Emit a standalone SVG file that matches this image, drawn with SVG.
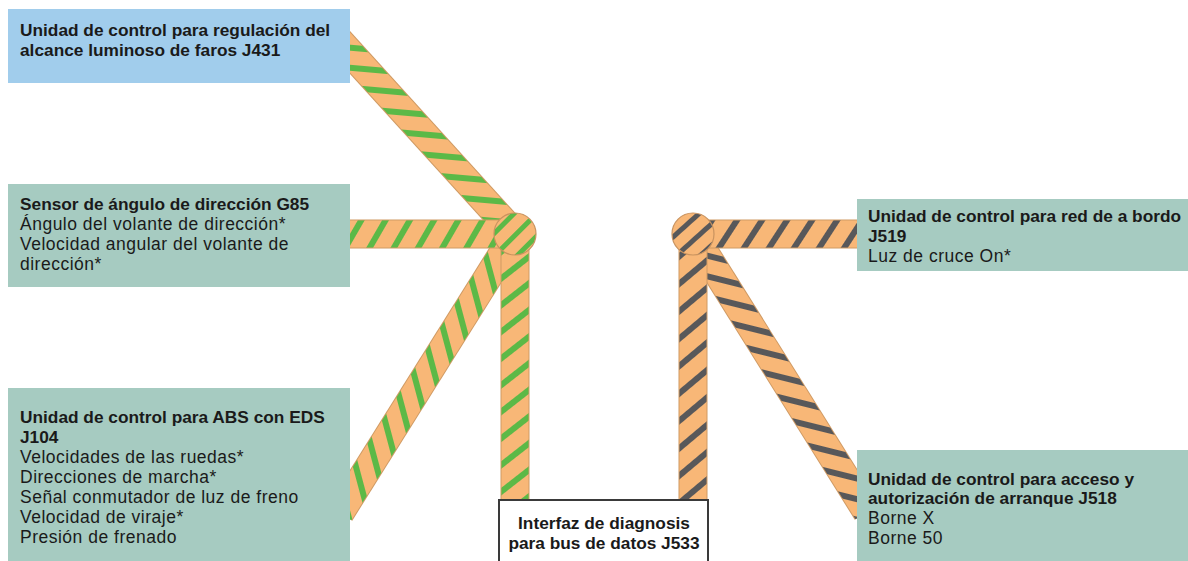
<svg xmlns="http://www.w3.org/2000/svg" width="1188" height="561" viewBox="0 0 1188 561">
<style>
.bg{fill:#ffffff}
.blue{fill:#a1cdec}
.teal{fill:#a6cbc1}
.iface{fill:#ffffff;stroke:#3a3a3a;stroke-width:2}
.edge{stroke:#cf9a63;stroke-width:29;fill:none}
.b{font-family:"Liberation Sans",Arial,sans-serif;font-weight:bold;font-size:17.3px;fill:#1a1a1a}
.r{font-family:"Liberation Sans",Arial,sans-serif;font-size:17.5px;letter-spacing:0.5px;fill:#1a1a1a}
.jc{stroke:#c9935f;stroke-width:1.2}
</style>
<defs>
<pattern id="pA" patternUnits="userSpaceOnUse" width="20" height="20" patternTransform="rotate(-85)"><rect width="20" height="20" fill="#f8b777"/><rect width="6" height="20" fill="#5cb947"/></pattern>
<pattern id="pB" patternUnits="userSpaceOnUse" width="21" height="20" patternTransform="rotate(30)"><rect width="21" height="20" fill="#f8b777"/><rect width="6" height="20" fill="#5cb947"/></pattern>
<pattern id="pC" patternUnits="userSpaceOnUse" width="21" height="20" patternTransform="rotate(52)"><rect width="21" height="20" fill="#f8b777"/><rect width="6" height="20" fill="#5cb947"/></pattern>
<pattern id="pD" patternUnits="userSpaceOnUse" width="20" height="20" patternTransform="rotate(-15)"><rect width="20" height="20" fill="#f8b777"/><rect width="6" height="20" fill="#5cb947"/></pattern>
<pattern id="pE" patternUnits="userSpaceOnUse" width="16" height="20" patternTransform="rotate(45)"><rect width="16" height="20" fill="#f8b777"/><rect width="5" height="20" fill="#5cb947"/></pattern>
<pattern id="pF" patternUnits="userSpaceOnUse" width="21" height="20" patternTransform="rotate(33)"><rect width="21" height="20" fill="#f8b777"/><rect width="6" height="20" fill="#58585a"/></pattern>
<pattern id="pG" patternUnits="userSpaceOnUse" width="21" height="20" patternTransform="rotate(50)"><rect width="21" height="20" fill="#f8b777"/><rect width="6" height="20" fill="#58585a"/></pattern>
<pattern id="pH" patternUnits="userSpaceOnUse" width="20" height="20" patternTransform="rotate(-76)"><rect width="20" height="20" fill="#f8b777"/><rect width="6" height="20" fill="#58585a"/></pattern>
<pattern id="pI" patternUnits="userSpaceOnUse" width="16" height="20" patternTransform="rotate(48)"><rect width="16" height="20" fill="#f8b777"/><rect width="5" height="20" fill="#58585a"/></pattern>
</defs>
<rect class="bg" x="0" y="0" width="1188" height="561"/>

<g id="connectors">
  <line class="edge" x1="515" y1="234" x2="330" y2="30.5"/>
  <line x1="515" y1="234" x2="330" y2="30.5" stroke="url(#pA)" stroke-width="27"/>
  <line class="edge" x1="515" y1="234" x2="340" y2="513"/>
  <line x1="515" y1="234" x2="340" y2="513" stroke="url(#pD)" stroke-width="27"/>
  <line class="edge" x1="515" y1="234" x2="340" y2="234"/>
  <line x1="515" y1="234" x2="340" y2="234" stroke="url(#pB)" stroke-width="27"/>
  <line class="edge" x1="515" y1="234" x2="515" y2="520"/>
  <line x1="515" y1="234" x2="515" y2="520" stroke="url(#pC)" stroke-width="27"/>

  <line class="edge" x1="693" y1="234" x2="867" y2="512"/>
  <line x1="693" y1="234" x2="867" y2="512" stroke="url(#pH)" stroke-width="27"/>
  <line class="edge" x1="693" y1="234" x2="870" y2="234"/>
  <line x1="693" y1="234" x2="870" y2="234" stroke="url(#pF)" stroke-width="27"/>
  <line class="edge" x1="693" y1="234" x2="693" y2="520"/>
  <line x1="693" y1="234" x2="693" y2="520" stroke="url(#pG)" stroke-width="27"/>
</g>

<g id="junction-left">
  <circle class="jc" cx="515" cy="234" r="21" fill="url(#pE)"/>
</g>
<g id="junction-right">
  <circle class="jc" cx="693" cy="234" r="21" fill="url(#pI)"/>
</g>

<g id="J431">
  <rect class="blue" x="8" y="9" width="342" height="74"/>
  <text class="b" x="20" y="36">Unidad de control para regulación del</text>
  <text class="b" x="20" y="56">alcance luminoso de faros J431</text>
</g>

<g id="G85">
  <rect class="teal" x="8" y="184" width="342" height="103"/>
  <text class="b" x="20" y="210">Sensor de ángulo de dirección G85</text>
  <text class="r" x="20" y="230">Ángulo del volante de dirección*</text>
  <text class="r" x="20" y="250">Velocidad angular del volante de</text>
  <text class="r" x="20" y="270">dirección*</text>
</g>

<g id="J104">
  <rect class="teal" x="8" y="388" width="342" height="173"/>
  <text class="b" x="20" y="423">Unidad de control para ABS con EDS</text>
  <text class="b" x="20" y="443">J104</text>
  <text class="r" x="20" y="463">Velocidades de las ruedas*</text>
  <text class="r" x="20" y="483">Direcciones de marcha*</text>
  <text class="r" x="20" y="503">Señal conmutador de luz de freno</text>
  <text class="r" x="20" y="523">Velocidad de viraje*</text>
  <text class="r" x="20" y="543">Presión de frenado</text>
</g>

<g id="J519">
  <rect class="teal" x="857" y="199" width="331" height="72"/>
  <text class="b" x="868" y="222">Unidad de control para red de a bordo</text>
  <text class="b" x="868" y="242">J519</text>
  <text class="r" x="868" y="262">Luz de cruce On*</text>
</g>

<g id="J518">
  <rect class="teal" x="857" y="450" width="331" height="111"/>
  <text class="b" x="868" y="485">Unidad de control para acceso y</text>
  <text class="b" x="868" y="504">autorización de arranque J518</text>
  <text class="r" x="868" y="524">Borne X</text>
  <text class="r" x="868" y="544">Borne 50</text>
</g>

<g id="J533">
  <rect class="iface" x="499" y="500" width="209" height="70"/>
  <text class="b" x="604" y="529" text-anchor="middle">Interfaz de diagnosis</text>
  <text class="b" x="604" y="549" text-anchor="middle">para bus de datos J533</text>
</g>
</svg>
